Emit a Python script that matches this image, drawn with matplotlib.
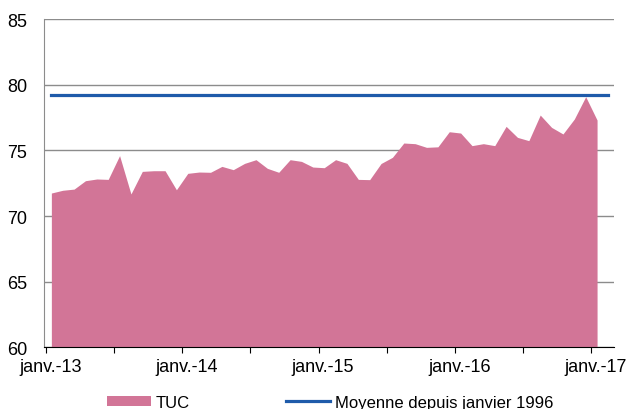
import matplotlib
matplotlib.use('Agg')
import matplotlib.pyplot as plt
import matplotlib.transforms as mtransforms
import numpy as np

plt.rcParams['font.family'] = ['Liberation Sans', 'DejaVu Sans']

# monthly, janv. 2013 -> janv. 2017
tuc = [71.75, 71.96, 72.05, 72.69, 72.82, 72.79, 74.60, 71.68, 73.40, 73.45,
       73.45, 72.00, 73.25, 73.35, 73.33, 73.78, 73.53, 74.01, 74.29, 73.63,
       73.33, 74.29, 74.16, 73.73, 73.68, 74.29, 74.01, 72.79, 72.77, 74.00,
       74.47, 75.56, 75.51, 75.23, 75.27, 76.42, 76.32, 75.36, 75.51, 75.36,
       76.83, 75.99, 75.74, 77.69, 76.75, 76.25, 77.39, 79.09, 77.31]
avg_since_1996 = 79.2
n_months_line = 50  # the average line runs one month further
year_labels = ['janv.-13', 'janv.-14', 'janv.-15', 'janv.-16', 'janv.-17']
yticks = [60, 65, 70, 75, 80, 85]

x = np.arange(len(tuc))
x_line = np.arange(n_months_line)

fig = plt.figure(figsize=(6.3, 4.1), dpi=100)
ax = fig.add_axes([0.0698, 0.1505, 0.905, 0.8005])

ax.fill_between(x, 60, tuc, color='#D27597', lw=0, label='TUC', zorder=2)
ax.plot(x_line, [avg_since_1996] * n_months_line, color='#1F5BAA', lw=2.3,
        label='Moyenne depuis janvier 1996', zorder=3)

ax.set_ylim(60, 85)
ax.set_yticks(yticks)
ax.yaxis.grid(True, color='#8c8c8c', lw=1.0, zorder=0)
ax.set_axisbelow(True)
ax.tick_params(axis='y', length=0, labelsize=13, pad=12)

# ticks every six months, labels only in January
ax.set_xlim(-0.65, 49.5)
ax.set_xticks(np.arange(-0.5, 48, 6))
ax.set_xticklabels([v for y in year_labels for v in (y, '')][:9])
ax.tick_params(axis='x', direction='out', length=4, color='black', labelsize=13, pad=4)
offset = mtransforms.ScaledTranslation(4.5 / 100, 0, fig.dpi_scale_trans)
for lab in ax.get_xticklabels():
    lab.set_transform(lab.get_transform() + offset)

for s in ['top', 'right']:
    ax.spines[s].set_visible(False)
ax.spines['left'].set_color('#8c8c8c')
ax.spines['bottom'].set_color('black')

fig.legend(loc='center', bbox_to_anchor=(0.524, 0.017), ncol=2, frameon=False,
           fontsize=12, handlelength=2.65, handleheight=0.55, handletextpad=0.3,
           columnspacing=5.75)

fig.savefig('out.png', dpi=100)
